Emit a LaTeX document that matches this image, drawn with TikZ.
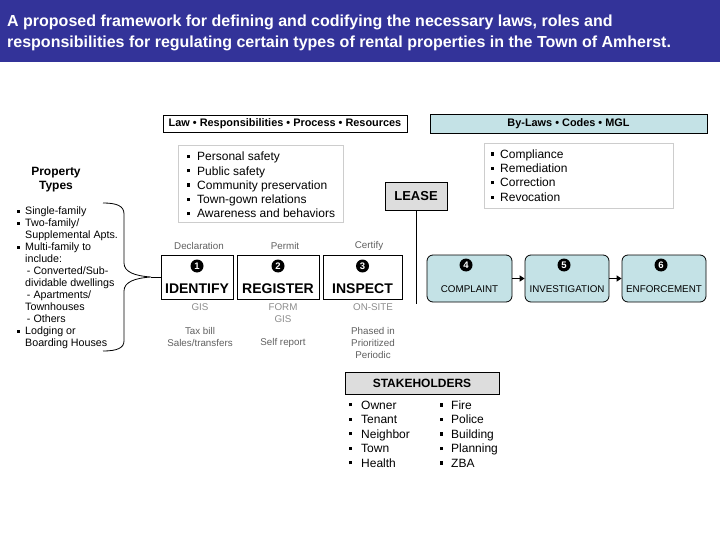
\documentclass[tikz,border=0pt]{standalone}
\usepackage{fontspec}
\setmainfont{Liberation Sans}
\usetikzlibrary{arrows.meta}
\definecolor{titleblue}{RGB}{51,51,153}
\definecolor{paleblue}{RGB}{196,226,230}
\definecolor{boxgray}{RGB}{221,221,221}
\definecolor{framegray}{RGB}{205,205,205}
\definecolor{labgray}{RGB}{95,95,95}
\definecolor{litegray}{RGB}{140,140,140}
\newcommand\sqb{\rule[0.22em]{0.27em}{0.27em}}
\newcommand\bl{\makebox[10pt][l]{\sqb}}
\newcommand\pb{\makebox[8pt][l]{\rule[0.2em]{0.25em}{0.25em}}}
\tikzset{
  titletext/.style={anchor=base west, inner sep=0, text=white, font=\bfseries\fontsize{16}{19}\selectfont},
  headbox/.style={draw, line width=0.8pt, inner sep=0, font=\bfseries\fontsize{10.9}{12}\selectfont},
  listbox/.style={draw=framegray, line width=0.6pt},
  listtext/.style={anchor=west, inner sep=0, align=left, font=\fontsize{12}{14.2}\selectfont},
  graybox/.style={draw, line width=0.8pt, fill=boxgray, inner sep=0},
  procbox/.style={draw, line width=0.8pt, inner sep=0, minimum height=44pt},
  roundbox/.style={draw, line width=0.8pt, fill=paleblue, rounded corners=6pt, inner sep=0, minimum height=47pt, minimum width=84pt},
  numcirc/.style={circle, fill=black, text=white, inner sep=0, minimum size=13pt, font=\bfseries\fontsize{9.5}{9.5}\selectfont},
  procword/.style={inner sep=0, font=\bfseries\fontsize{14}{14}\selectfont},
  roundword/.style={inner sep=0, font=\fontsize{9.8}{10}\selectfont},
  lab/.style={inner sep=0, text=labgray, font=\fontsize{9.8}{12}\selectfont, align=center},
  litelab/.style={inner sep=0, text=litegray, font=\fontsize{9.8}{12}\selectfont, align=center},
  flow/.style={line width=1.6pt, -{Triangle[length=5pt,width=6pt]}},
}
\begin{document}
\begin{tikzpicture}[x=1pt,y=-1pt]
\useasboundingbox (0,0) rectangle (720,540);
\fill[titleblue] (0,0) rectangle (720,62);
\node[titletext] (t1) at (7,27) {A proposed framework for defining and codifying the necessary laws, roles and};
\node[titletext] (t2) at (7,48) {responsibilities for regulating certain types of rental properties in the Town of Amherst.};

% header boxes
\node[headbox, minimum width=244pt, minimum height=17pt] (law) at (285,123.5) {Law • Responsibilities • Process • Resources};
\node[headbox, fill=paleblue, minimum width=277pt, minimum height=19pt] (bylaws) at (568.5,123.5) {By-Laws • Codes • MGL};

% list boxes
\draw[listbox] (178,145) rectangle (343,222);
\node[listtext] (goals) at (187,185) {\bl Personal safety\\ \bl Public safety\\ \bl Community preservation\\ \bl Town-gown relations\\ \bl Awareness and behaviors};
\draw[listbox] (484,143) rectangle (673,208);
\node[listtext, font=\fontsize{12}{14.4}\selectfont] (remedies) at (491,175.5) {\makebox[9pt][l]{\sqb}Compliance\\ \makebox[9pt][l]{\sqb}Remediation\\ \makebox[9pt][l]{\sqb}Correction\\ \makebox[9pt][l]{\sqb}Revocation};

% lease
\node[graybox, minimum width=62pt, minimum height=28pt, font=\bfseries\fontsize{13}{13}\selectfont] (lease) at (416,196) {LEASE};
\coordinate (leaseend) at (416,304);
\draw[line width=0.8pt] (lease.south) -- (leaseend);

% property types
\node[inner sep=0, align=center, font=\bfseries\fontsize{12}{14}\selectfont] (ptitle) at (56,180) {Property\\Types};
\node[anchor=north west, inner sep=0, align=left, font=\fontsize{10.7}{12}\selectfont] (plist) at (17,207) {\pb Single-family\\ \pb Two-family/\\ \hspace*{8pt}Supplemental Apts.\\ \pb Multi-family to\\ \hspace*{8pt}include:\\ \hspace*{8pt}\,- Converted/Sub-\\ \hspace*{8pt}dividable dwellings\\ \hspace*{8pt}\,- Apartments/\\ \hspace*{8pt}Townhouses\\ \hspace*{8pt}\,- Others\\ \pb Lodging or\\ \hspace*{8pt}Boarding Houses};

% process boxes
\node[procbox, minimum width=72pt] (identify) at (197,277) {};
\node[procbox, minimum width=82pt] (register) at (278,277) {};
\node[procbox, minimum width=79pt] (inspect) at (362.5,277) {};
\node[numcirc] (n1) at (197,266) {1};
\node[numcirc] (n2) at (278,266) {2};
\node[numcirc] (n3) at (362.5,266) {3};
\node[procword] (w1) at (197,289) {IDENTIFY};
\node[procword] (w2) at (278,289) {REGISTER};
\node[procword] (w3) at (362.5,289) {INSPECT};

% brace
\coordinate (btip) at (151,277);
\draw[line width=0.8pt] (103,203) .. controls (117,203) and (124,206) .. (124,214)
  -- (124,263) .. controls (124,272) and (135,276) .. (btip)
  .. controls (135,278) and (124,282) .. (124,291)
  -- (124,341) .. controls (124,348) and (117,351) .. (103,351);
\draw[line width=0.8pt] (btip) -- (identify.west);

% labels above / below
\node[lab] (decl) at (199,246) {Declaration};
\node[lab] (perm) at (285,246) {Permit};
\node[lab] (cert) at (369,246) {Certify};
\node[litelab] (gis1) at (200,307) {GIS};
\node[lab] (tax) at (200,337) {Tax bill\\Sales/transfers};
\node[litelab] (form) at (283,313) {FORM\\GIS};
\node[lab] (self) at (283,343) {Self report};
\node[litelab] (onsite) at (373,307) {ON-SITE};
\node[lab] (phase) at (373,343) {Phased in\\Prioritized\\Periodic};

% rounded boxes
\node[roundbox, minimum width=85pt] (complaint) at (469.5,278.5) {};
\node[roundbox] (investigation) at (567,278.5) {};
\node[roundbox] (enforcement) at (664,278.5) {};
\node[numcirc] (n4) at (466,265) {4};
\node[numcirc] (n5) at (564,265) {5};
\node[numcirc] (n6) at (661,265) {6};
\node[roundword] (w4) at (469.5,289) {COMPLAINT};
\node[roundword] (w5) at (567,289) {INVESTIGATION};
\node[roundword] (w6) at (664,289) {ENFORCEMENT};
\draw[flow] (complaint.east) -- (investigation.west);
\draw[flow] (investigation.east) -- (enforcement.west);

% stakeholders
\node[graybox, minimum width=154pt, minimum height=22pt, font=\bfseries\fontsize{12}{12}\selectfont] (stake) at (422,383) {STAKEHOLDERS};
\node[listtext, font=\fontsize{12}{14.5}\selectfont] (s1) at (349,434) {\makebox[12pt][l]{\sqb}Owner\\ \makebox[12pt][l]{\sqb}Tenant\\ \makebox[12pt][l]{\sqb}Neighbor\\ \makebox[12pt][l]{\sqb}Town\\ \makebox[12pt][l]{\sqb}Health};
\node[listtext, font=\fontsize{12}{14.5}\selectfont] (s2) at (440,434) {\makebox[11pt][l]{\sqb}Fire\\ \makebox[11pt][l]{\sqb}Police\\ \makebox[11pt][l]{\sqb}Building\\ \makebox[11pt][l]{\sqb}Planning\\ \makebox[11pt][l]{\sqb}ZBA};
\end{tikzpicture}
\end{document}
